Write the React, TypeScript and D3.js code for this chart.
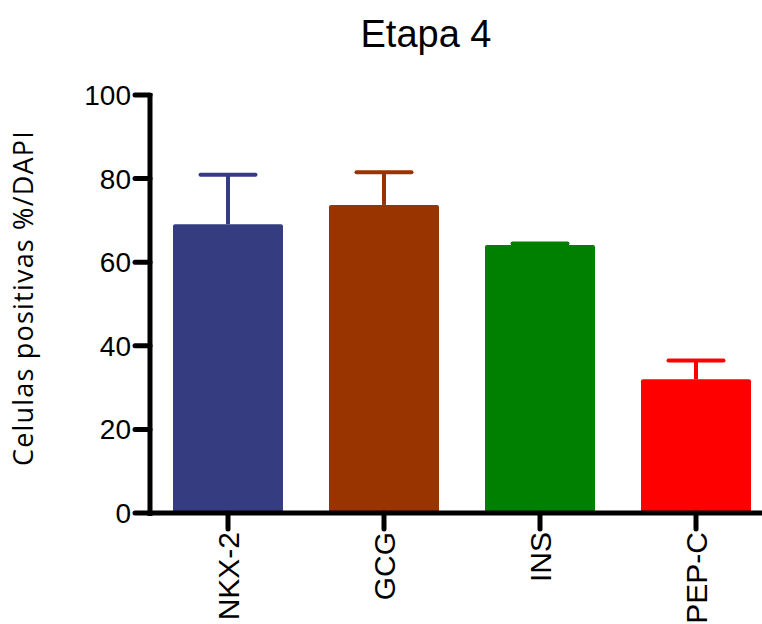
import React from "react";
import * as d3 from "d3";

const categories = ["NKX-2", "GCG", "INS", "PEP-C"];
const means = [69.1, 73.7, 64.1, 32.0];
const errors = [11.8, 7.8, 0.4, 4.5];
const colors = ["#363c80", "#993300", "#008000", "#ff0000"];
const yTicks = [0, 20, 40, 60, 80, 100];

const W = 762;
const H = 624;

export default function App() {
  const x = d3
    .scaleBand<string>()
    .domain(categories)
    .range([150, 774])
    .paddingInner(0.295)
    .paddingOuter(0.1475);
  const y = d3.scaleLinear().domain([0, 100]).range([513, 95]);
  const bw = x.bandwidth();
  const capW = bw * 0.5;

  return (
    <svg
      width={W}
      height={H}
      style={{ position: "absolute", left: 0, top: 0, background: "#fff" }}
    >
      <text
        x={426}
        y={47}
        textAnchor="middle"
        fontFamily="Liberation Sans, Arial, sans-serif"
        fontSize={38}
      >
        Etapa 4
      </text>

      {categories.map((c, i) => {
        const cx = (x(c) as number) + bw / 2;
        return (
          <g key={c}>
            <line
              x1={cx}
              x2={cx}
              y1={y(means[i])}
              y2={y(means[i] + errors[i])}
              stroke={colors[i]}
              strokeWidth={4}
            />
            <line
              x1={cx - capW / 2}
              x2={cx + capW / 2}
              y1={y(means[i] + errors[i])}
              y2={y(means[i] + errors[i])}
              stroke={colors[i]}
              strokeWidth={4}
              strokeLinecap="round"
            />
            <rect
              x={x(c)}
              y={y(means[i])}
              width={bw}
              height={y(0) - y(means[i]) + 2}
              rx={2}
              fill={colors[i]}
            />
          </g>
        );
      })}

      {/* y axis */}
      <line x1={150} x2={150} y1={93} y2={516} stroke="#000" strokeWidth={5} />
      {yTicks.map((t) => (
        <g key={t}>
          <line
            x1={135}
            x2={150}
            y1={y(t)}
            y2={y(t)}
            stroke="#000"
            strokeWidth={5}
            strokeLinecap="round"
          />
          <text
            x={131}
            y={y(t)}
            dy="0.36em"
            textAnchor="end"
            fontFamily="Liberation Sans, Arial, sans-serif"
            fontSize={28}
          >
            {t}
          </text>
        </g>
      ))}

      {/* x axis */}
      <line x1={148} x2={762} y1={513} y2={513} stroke="#000" strokeWidth={5} />
      {categories.map((c) => {
        const cx = (x(c) as number) + bw / 2;
        return (
          <g key={c}>
            <line
              x1={cx}
              x2={cx}
              y1={513}
              y2={529}
              stroke="#000"
              strokeWidth={5}
              strokeLinecap="round"
            />
            <text
              transform={`translate(${cx},532) rotate(-90)`}
              dy="0.36em"
              textAnchor="end"
              fontFamily="Liberation Sans, Arial, sans-serif"
              fontSize={30}
            >
              {c}
            </text>
          </g>
        );
      })}

      <text
        transform="translate(33,298) rotate(-90)"
        textAnchor="middle"
        fontFamily="Open Sans, sans-serif"
        fontSize={27}
        letterSpacing={1.2}
      >
        Celulas positivas %/DAPI
      </text>
    </svg>
  );
}
